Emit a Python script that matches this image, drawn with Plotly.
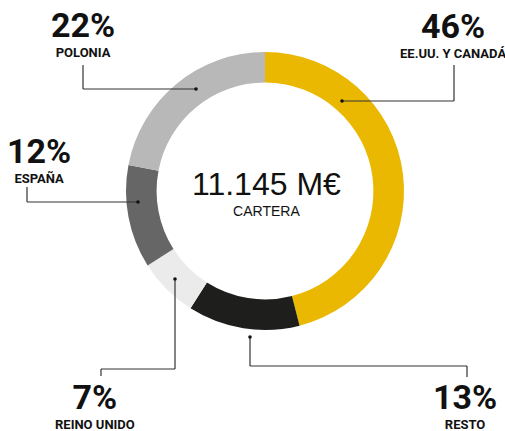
import plotly.graph_objects as go

# ---- data ----
regions = ["EE.UU. Y CANADÁ", "RESTO", "REINO UNIDO", "ESPAÑA", "POLONIA"]
shares = [46, 13, 7, 12, 22]
share_labels = ["46%", "13%", "7%", "12%", "22%"]
colors = ["#EAB800", "#1E1E1C", "#EBEBEB", "#666666", "#B8B8B8"]
total_label = "11.145 M€"
total_caption = "CARTERA"

W, H = 505, 431

# label layout (pixel positions): label block centre x, percentage centre y, name centre y, leader path
label_layout = {
    "EE.UU. Y CANADÁ": dict(x=453, pct=27, name=52, path=[(342, 101), (454, 101), (454, 65)]),
    "RESTO": dict(x=465, pct=399, name=421, path=[(250, 337), (250, 366), (467, 366), (467, 377)]),
    "REINO UNIDO": dict(x=95, pct=399, name=421, path=[(175, 279), (175, 369), (101, 369), (101, 376)]),
    "ESPAÑA": dict(x=39, pct=153, name=176, path=[(138, 202), (27, 202), (27, 187)]),
    "POLONIA": dict(x=83, pct=27, name=51, path=[(196, 89), (83, 89), (83, 65)]),
}

def px(x):
    return x / W

def py(y):
    return 1 - y / H

fig = go.Figure()
fig.add_trace(go.Pie(
    labels=regions,
    values=shares,
    marker=dict(colors=colors, line=dict(width=0)),
    hole=0.78,
    sort=False,
    direction="clockwise",
    rotation=0,
    textinfo="none",
    hoverinfo="label+percent",
    showlegend=False,
    domain=dict(x=[px(126), px(404)], y=[py(330), py(52)]),
))

shapes = []
annotations = []
label_font = "Roboto"
for reg, pl in zip(regions, share_labels):
    lay = label_layout[reg]
    pts = lay["path"]
    for (x0, y0), (x1, y1) in zip(pts[:-1], pts[1:]):
        shapes.append(dict(type="line", xref="paper", yref="paper",
                           x0=px(x0), y0=py(y0), x1=px(x1), y1=py(y1),
                           line=dict(color="#333333", width=1.2)))
    dx, dy = pts[0]
    shapes.append(dict(type="circle", xref="paper", yref="paper",
                       x0=px(dx - 1.8), x1=px(dx + 1.8), y0=py(dy + 1.8), y1=py(dy - 1.8),
                       fillcolor="#111111", line=dict(width=0)))
    cy = (lay["pct"] + lay["name"]) / 2 - 6
    annotations.append(dict(x=px(lay["x"]), y=py(cy), xref="paper", yref="paper",
                            text=f"<span style='font-size:34px'>{pl}</span><br><span style='font-size:13px'>{reg}</span>",
                            showarrow=False, xanchor="center", yanchor="middle", align="center",
                            font=dict(family=label_font, size=15, color="#111111", weight=700)))

annotations.append(dict(x=px(266), y=py(192.5), xref="paper", yref="paper",
                        text=f"<span style='font-size:32px'>{total_label}</span><br><span style='font-size:14px'>{total_caption}</span>",
                        showarrow=False, xanchor="center", yanchor="middle", align="center",
                        font=dict(family="Liberation Sans, Arial", size=16, color="#111111")))

fig.update_layout(
    width=W, height=H,
    margin=dict(l=0, r=0, t=0, b=0),
    paper_bgcolor="white", plot_bgcolor="white",
    shapes=shapes, annotations=annotations,
)

fig.write_html("out.html", config={"displayModeBar": False},
               post_script="document.body.style.margin='0';document.body.style.overflow='hidden';")
